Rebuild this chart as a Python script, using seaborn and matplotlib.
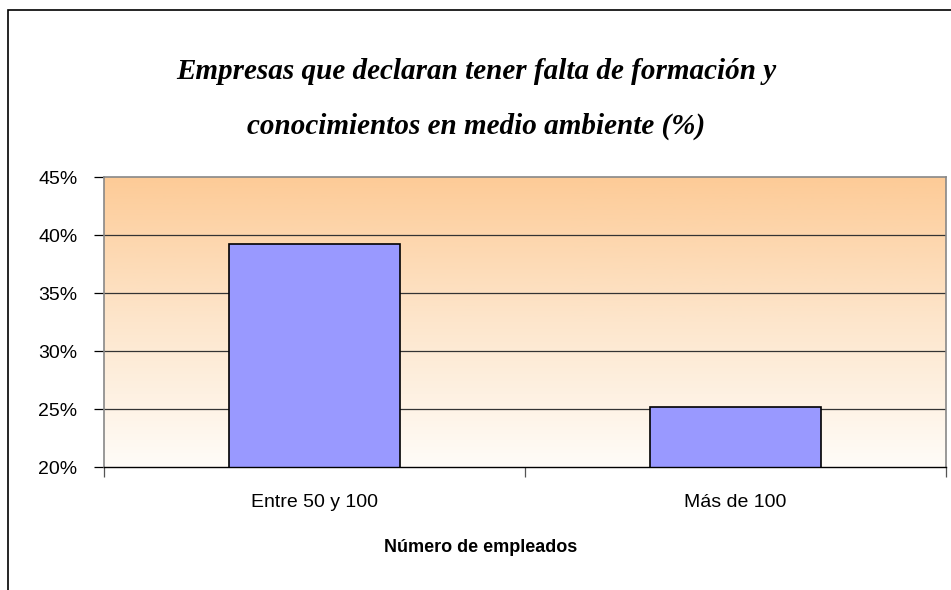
import numpy as np
import matplotlib.pyplot as plt
import matplotlib as mpl
import seaborn as sns
from matplotlib.colors import LinearSegmentedColormap
from matplotlib.ticker import FixedLocator, FuncFormatter

# --- data ---
categorias = ["Entre 50 y 100", "Más de 100"]
porcentajes = [39.2, 25.2]
y_ticks = [20, 25, 30, 35, 40, 45]

titulo = "Empresas que declaran tener falta de formación y\n\nconocimientos en medio ambiente (%)"
x_label = "Número de empleados"

sns.set_style("white")
plt.rcParams["font.family"] = ["Liberation Sans", "DejaVu Sans"]
plt.rcParams["text.color"] = "black"
plt.rcParams["xtick.color"] = "black"
plt.rcParams["ytick.color"] = "black"

fig = plt.figure(figsize=(9.51, 5.90), dpi=100)
ax = fig.add_axes([104 / 951, 1 - 467 / 590, (946 - 104) / 951, (467 - 177) / 590])

# orange gradient in the plot area
grad_cmap = LinearSegmentedColormap.from_list("bg", ["#FFFCF8", "#FDE6CC", "#FDCB97"])
grad = np.linspace(0, 1, 256).reshape(-1, 1)
ax.imshow(grad, cmap=grad_cmap, aspect="auto", origin="lower",
          extent=[0, 1, 0, 1], transform=ax.transAxes, zorder=0)

sns.barplot(x=categorias, y=porcentajes, color="#9999FF", edgecolor="black",
            linewidth=1.2, width=0.405, saturation=1, ax=ax, zorder=3)

ax.set_ylim(20, 45)
ax.set_xlim(-0.5, 1.5)
ax.yaxis.set_major_locator(FixedLocator(y_ticks))
ax.yaxis.set_major_formatter(FuncFormatter(lambda v, p: f"{v:.0f}%"))
for v in y_ticks[1:-1]:
    ax.axhline(v, color="#333333", linewidth=0.9, zorder=1)

for s in ["left", "top", "right"]:
    ax.spines[s].set_color("#888888")
    ax.spines[s].set_linewidth(1.2)
ax.spines["bottom"].set_color("black")
ax.spines["bottom"].set_linewidth(1.0)
for s in ax.spines.values():
    s.set_zorder(4)

ax.tick_params(axis="y", which="major", left=True, length=7, width=0.9,
               color="black", labelsize=14, pad=12)
ax.tick_params(axis="x", which="major", bottom=False, labelsize=14, pad=16)
ax.xaxis.set_minor_locator(FixedLocator([-0.5, 0.5, 1.5]))
ax.tick_params(axis="x", which="minor", bottom=True, length=7, width=0.9, color="#555555")

ax.set_xlabel("")
ax.set_ylabel("")
fig.text(481 / 951, 1 - 547 / 590, x_label, ha="center", va="center",
         fontsize=13, fontweight="bold")

fig.text(476 / 951, 1 - 99 / 590, titulo, ha="center", va="center", fontsize=21,
         family="Liberation Serif", style="italic", fontweight="bold",
         linespacing=1.0)

# outer chart frame (only left and top visible in the crop)
frame_top = 1 - 10 / 590
fig.patches.append(mpl.patches.Rectangle((8 / 951, -0.2), 1.5, frame_top + 0.2,
                                         transform=fig.transFigure, fill=False,
                                         edgecolor="black", linewidth=1.2))

fig.savefig("out.png", dpi=100)
